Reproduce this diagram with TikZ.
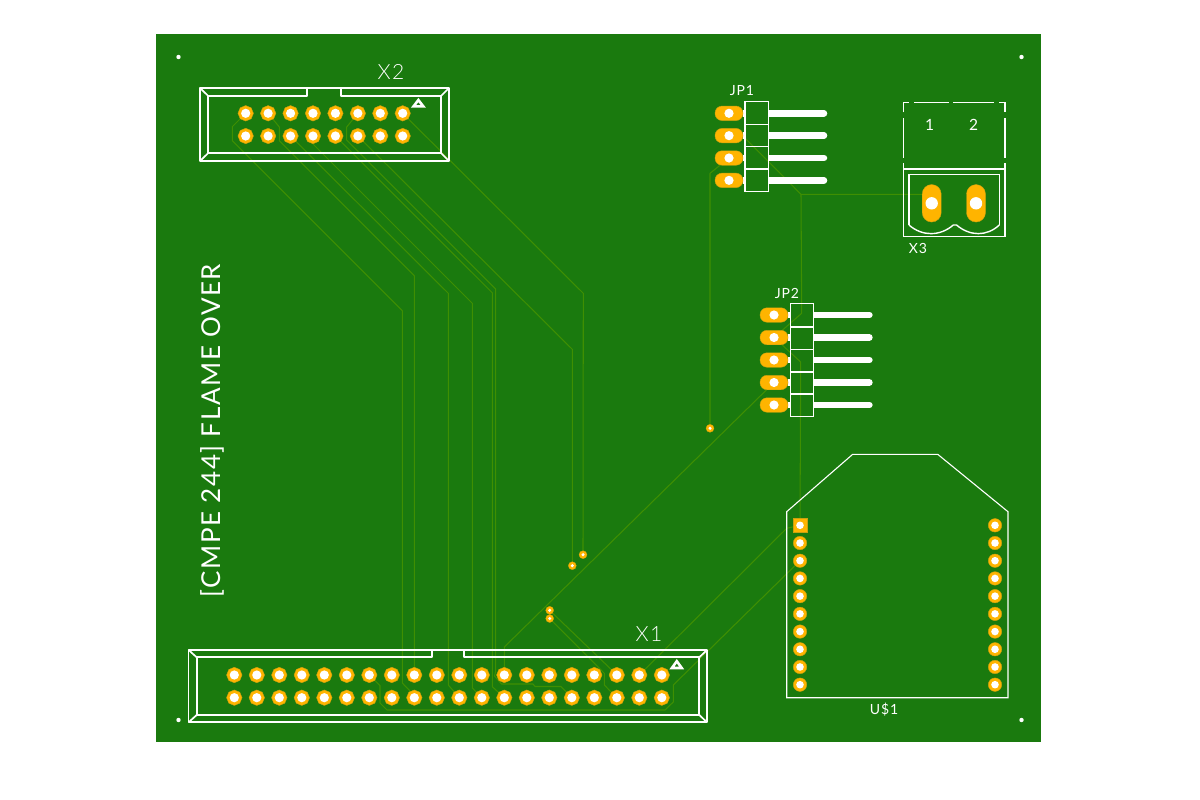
\documentclass[tikz,border=0pt]{standalone}
\usepackage{fontspec}
\usetikzlibrary{shapes.geometric}
\newfontfamily\silkfont[LetterSpace=6]{Lato Light}
\newfontfamily\silkbold[LetterSpace=6]{Lato}
\definecolor{boardgreen}{HTML}{1A7A0E}
\definecolor{tracegreen}{HTML}{3F8F02}
\definecolor{padorange}{HTML}{FFB400}
\definecolor{padedge}{HTML}{C9A010}
\pgfdeclarelayer{copper}
\pgfsetlayers{copper,main}
\tikzset{
    silk/.style={draw=white, line width=1.7pt, line join=round},
    silkthin/.style={draw=white, line width=1.4pt, line join=miter},
    outlinethin/.style={draw=white, line width=1.1pt, line join=miter},
    marker/.style={draw=white, line width=2.6pt, line join=miter},
    trace/.style={draw=tracegreen, line width=1.05pt, line join=round},
    octpad/.style={regular polygon, regular polygon sides=8, shape border rotate=22.5, minimum size=15.5pt, inner sep=0pt, fill=padorange, draw=padedge, line width=0.4pt,
        path picture={\fill[white] (path picture bounding box.center) circle (4.6pt);}},
    roundpad/.style={circle, minimum size=13.5pt, inner sep=0pt, fill=padorange, draw=padedge, line width=0.4pt,
        path picture={\fill[white] (path picture bounding box.center) circle (3.8pt);}},
    squarepad/.style={rectangle, minimum size=13.5pt, inner sep=0pt, fill=padorange, draw=padedge, line width=0.4pt,
        path picture={\fill[white] (path picture bounding box.center) circle (3.8pt);}},
    ovalpad/.style={rectangle, rounded corners=7pt, minimum width=28pt, minimum height=14.5pt, inner sep=0pt, fill=padorange, draw=padedge, line width=0.4pt,
        path picture={\fill[white] (path picture bounding box.center) circle (4.6pt);}},
    termpad/.style={rectangle, rounded corners=9.5pt, minimum width=19pt, minimum height=37.5pt, inner sep=0pt, fill=padorange, draw=padedge, line width=0.4pt,
        path picture={\fill[white] (path picture bounding box.center) circle (6.2pt);}},
    viapad/.style={circle, minimum size=8pt, inner sep=0pt, fill=padorange, draw=padedge, line width=0.3pt,
        path picture={\fill[white] (path picture bounding box.center) circle (1.7pt);}},
    pinline/.style={draw=white, line width=6.5pt, line cap=round},
    stubline/.style={draw=white, line width=6.5pt},
    biglabel/.style={text=white, inner sep=0pt, font=\silkfont\fontsize{21}{21}\selectfont},
    smalllabel/.style={text=white, inner sep=0pt, font=\silkbold\fontsize{14}{14}\selectfont},
    digitlabel/.style={text=white, inner sep=0pt, font=\silkbold\fontsize{15.5}{15.5}\selectfont},
    titlelabel/.style={text=white, inner sep=0pt, rotate=90, font=\silkbold\fontsize{26}{26}\selectfont}
}
\begin{document}
\begin{tikzpicture}[x=1pt, y=-1pt]
    \useasboundingbox (0,0) rectangle (1200,800);

    % pads of the two headers
    \foreach \i in {0,...,7} {
        \node[octpad] (x2t\i) at (245.7+22.43*\i,113.3) {};
        \node[octpad] (x2b\i) at (245.7+22.43*\i,136) {};
    }
    \foreach \i in {0,...,19} {
        \node[octpad] (x1t\i) at (234.3+22.5*\i,675) {};
        \node[octpad] (x1b\i) at (234.3+22.5*\i,697.7) {};
    }

    % pin headers, terminal, module
    \foreach \i in {0,...,3} {
        \draw[stubline] (743,113.3+22.35*\i) -- (745,113.3+22.35*\i);
        \draw[stubline] (768.7,113.3+22.35*\i) -- (775,113.3+22.35*\i);
        \draw[pinline] (775,113.3+22.35*\i) -- (824,113.3+22.35*\i);
        \node[ovalpad] (jp1p\i) at (729,113.3+22.35*\i) {};
    }
    \foreach \i in {0,...,4} {
        \draw[stubline] (788,315+22.5*\i) -- (790.7,315+22.5*\i);
        \draw[stubline] (813.3,315+22.5*\i) -- (820,315+22.5*\i);
        \draw[pinline] (820,315+22.5*\i) -- (869.4,315+22.5*\i);
        \node[ovalpad] (jp2p\i) at (774,315+22.5*\i) {};
    }
    \node[termpad] (x3p1) at (931.7,203.3) {};
    \node[termpad] (x3p2) at (976,203.3) {};
    \node[squarepad] (u1l0) at (800,525.3) {};
    \foreach \i in {1,...,9} {
        \node[roundpad] (u1l\i) at (800,525.3+17.71*\i) {};
    }
    \foreach \i in {0,...,9} {
        \node[roundpad] (u1r\i) at (995,525.3+17.71*\i) {};
    }

    % vias
    \node[viapad] (via1) at (710,428.3) {};
    \node[viapad] (via2) at (583,554.7) {};
    \node[viapad] (via3) at (572.3,565.7) {};
    \node[viapad] (via4) at (549.7,610.3) {};
    \node[viapad] (via5) at (549.7,618.5) {};

    \begin{pgfonlayer}{copper}
        \fill[white] (0,0) rectangle (1200,800);
        \fill[boardgreen] (155.5,34.5) rectangle (1040.5,741.5);

        % x2 to x1
        \draw[trace] (x2t0.center) -- (232.3,126.7) -- (232.3,140.7) -- (402.3,310.7) -- (402.3,683) -- (410,691) -- (x1b8.center);
        \draw[trace] (x2t1.center) -- (279.3,127) -- (279.3,140.7) -- (414.3,275.7) -- (x1t8.center);
        \draw[trace] (x2b2.center) -- (448.3,293.3) -- (448.3,685) -- (x1b10.center);
        \draw[trace] (x2b3.center) -- (313,144) -- (472.3,303.3) -- (472.3,688) -- (x1b11.center);
        \draw[trace] (x2b4.center) -- (492.3,292.8) -- (492.3,686.7) -- (x1b12.center);
        \draw[trace] (x2t5.center) -- (346.7,127) -- (346.7,140) -- (495.7,289) -- (495.7,671) -- (494.5,676) -- (501.5,684) -- (533,684) -- (535,686.5) -- (561,686.5) -- (x1b15.center);
        \draw[trace] (x2b5.center) -- (572.3,349.3) -- (via3);
        \draw[trace] (x2t7.center) -- (583.3,293.3) -- (via2);

        % x1 to the module and the vias
        \draw[trace] (x1t18.center) -- (786.7,528.3) -- (u1l0.center);
        \draw[trace] (x1t6.center) -- (380,685.5) -- (380,703) -- (387,710) -- (665,710) -- (673.3,702) -- (673.3,685) -- (u1l2.center);
        \draw[trace] (x1t12.center) -- (504.3,647) -- (jp2p3.center);
        \draw[trace] (via4) -- (610,668.3) -- (x1t17.center);
        \draw[trace] (via5) -- (604.3,673.3) -- (604.3,685) -- (x1b17.center);

        % headers and terminal
        \draw[trace] (via1) -- (710,173.3) -- (jp1p2.center);
        \draw[trace] (jp1p1.center) -- (743,136) -- (801,194.3) -- (923,194.3) -- (x3p1.center);
        \draw[trace] (801,194.3) -- (801.7,313.3) -- (jp2p1.center);
        \draw[trace] (jp2p1.center) -- (800.7,362) -- (u1l0.center);
    \end{pgfonlayer}

    % mounting holes
    \fill[white] (178.5,57) circle (2.2);
    \fill[white] (1021.5,57) circle (2.2);
    \fill[white] (178.5,720) circle (2.2);
    \fill[white] (1021.5,720) circle (2.2);

    % x2 outline
    \draw[silk] (200,88) rectangle (449,161);
    \draw[silk] (208.3,96) -- (306.7,96) -- (306.7,88);
    \draw[silk] (341,88) -- (341,96) -- (441,96) -- (441,153) -- (208.3,153) -- (208.3,96);
    \draw[silk] (200,88) -- (208.3,96);
    \draw[silk] (449,88) -- (441,96);
    \draw[silk] (200,161) -- (208.3,153);
    \draw[silk] (449,161) -- (441,153);
    \draw[marker] (418.4,100) -- (423.3,106.4) -- (413.5,106.4) -- cycle;

    % x1 outline
    \draw[silk] (188.6,650) rectangle (707,722.3);
    \draw[silk] (196.7,657.3) -- (431.7,657.3) -- (431.7,650);
    \draw[silk] (464.3,650) -- (464.3,657.3) -- (699.3,657.3) -- (699.3,715) -- (196.7,715) -- (196.7,657.3);
    \draw[silk] (188.6,650) -- (196.7,657.3);
    \draw[silk] (707,650) -- (699.3,657.3);
    \draw[silk] (188.6,722.3) -- (196.7,715);
    \draw[silk] (707,722.3) -- (699.3,715);
    \draw[marker] (676.8,661.2) -- (681.7,668) -- (671.9,668) -- cycle;

    % jp1 body
    \draw[silkthin] (745,101.7) rectangle (768.7,191.7);
    \draw[silkthin] (745,124.3) -- (768.7,124.3);
    \draw[silkthin] (745,146.7) -- (768.7,146.7);
    \draw[silkthin] (745,169) -- (768.7,169);

    % jp2 body
    \draw[silkthin] (790.7,303.7) rectangle (813.3,416.7);
    \draw[silkthin] (790.7,327) -- (813.3,327);
    \draw[silkthin] (790.7,349.7) -- (813.3,349.7);
    \draw[silkthin] (790.7,372) -- (813.3,372);
    \draw[silkthin] (790.7,394) -- (813.3,394);

    % x3 body
    \draw[silkthin] (903.3,112.3) -- (903.3,102.3) -- (909.3,102.3);
    \draw[silkthin] (914.3,102.3) -- (949,102.3);
    \draw[silkthin] (953.3,102.3) -- (994,102.3);
    \draw[silkthin] (999,102.3) -- (1005,102.3) -- (1005,112.3);
    \draw[silkthin] (903.3,118.3) -- (903.3,158.3);
    \draw[silkthin] (1005,118.3) -- (1005,158.3);
    \draw[silkthin] (903.3,163.3) -- (903.3,236.7) -- (1005,236.7) -- (1005,163.3);
    \draw[silkthin] (903.3,169) -- (1005,169);
    \draw[silkthin] (909,225) -- (909,174.3) -- (999.3,174.3) -- (999.3,225);
    \draw[silkthin] (909,225) .. controls (922,236.5) and (940,236.5) .. (953.3,225) .. controls (954.5,224.3) and (955.5,224.3) .. (956.5,225) .. controls (970,236.5) and (987,236.5) .. (999.3,225);

    % module outline
    \draw[outlinethin] (786.7,511.7) -- (852.7,454.3) -- (937.7,454.3) -- (1008,511.7) -- (1008,697.7) -- (786.7,697.7) -- cycle;

    % labels
    \node[biglabel] (x2name) at (391,72) {X2};
    \node[biglabel] (x1name) at (649,634) {X1};
    \node[smalllabel] (jp1name) at (742,90.5) {JP1};
    \node[smalllabel] (jp2name) at (787,293) {JP2};
    \node[smalllabel] (x3name) at (918,248) {X3};
    \node[smalllabel] (u1name) at (884,710) {U\$1};
    \node[digitlabel] (x3one) at (929.5,125) {1};
    \node[digitlabel] (x3two) at (973.5,125) {2};
    \node[titlelabel] (boardname) at (212.5,430.5) {[CMPE 244] FLAME OVER};
\end{tikzpicture}
\end{document}
